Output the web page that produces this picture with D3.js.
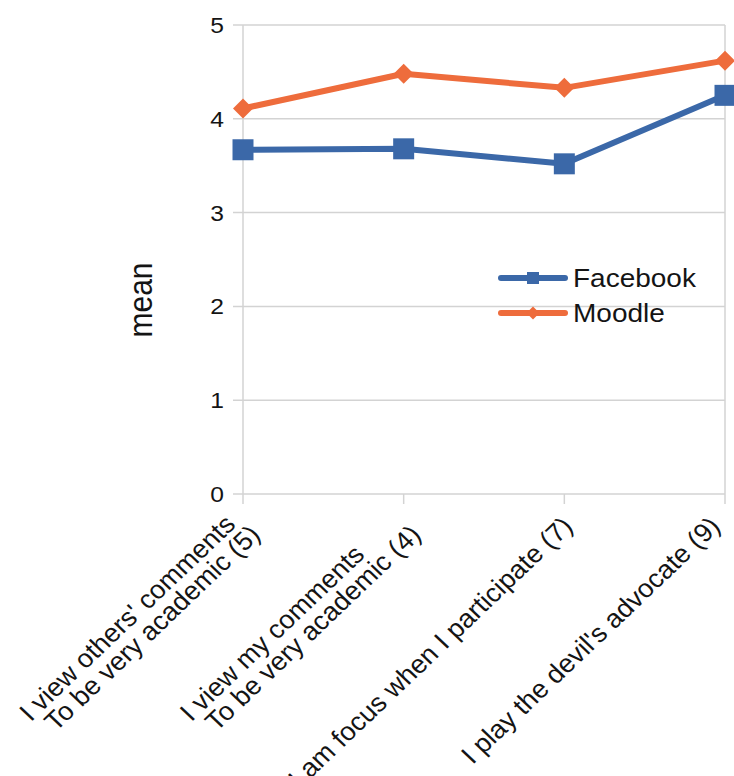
<!DOCTYPE html>
<html>
<head>
<meta charset="utf-8">
<script src="https://cdn.jsdelivr.net/npm/d3@7"></script>
<style>
  body { margin: 0; background: #fff; }
  text { font-family: "Liberation Sans", Arial, sans-serif; fill: #141414; }
</style>
</head>
<body>
<svg id="chart" width="734" height="776"></svg>
<script>
// data
const categories = [
  ["I view others' comments", "To be very academic (5)"],
  ["I view my comments", "To be very academic (4)"],
  ["I am focus when I participate (7)"],
  ["I play the devil's advocate (9)"]
];
const facebook = [3.67, 3.68, 3.52, 4.25];
const moodle = [4.11, 4.48, 4.33, 4.62];
const y_ticks = [0, 1, 2, 3, 4, 5];
const series = [
  {name: "Facebook", values: facebook, color: "#3b68a8", shape: "square"},
  {name: "Moodle", values: moodle, color: "#ee6c3c", shape: "diamond"}
];

const stretch = 1.12; // the source text looks a bit wide
const svg = d3.select("#chart");
const W = +svg.attr("width");

const x = d3.scalePoint()
  .domain(d3.range(categories.length))
  .range([243, 725]);

const y = d3.scaleLinear()
  .domain([0, 5])
  .range([494, 25]);

// square or diamond of a given width
function marker(shape, size) {
  const h = size / 2;
  if (shape === "square") return `M${-h},${-h}H${h}V${h}H${-h}Z`;
  return `M0,${-h}L${h},0L0,${h}L${-h},0Z`;
}

// grid lines
svg.append("g")
  .selectAll("line")
  .data(y_ticks)
  .join("line")
    .attr("x1", 233)
    .attr("x2", x.range()[1])
    .attr("y1", d => y(d))
    .attr("y2", d => y(d))
    .attr("stroke", "#d3d3d3")
    .attr("stroke-width", 1.5);

// left and right edges of the plot
svg.append("g")
  .selectAll("line")
  .data(x.range())
  .join("line")
    .attr("x1", d => d)
    .attr("x2", d => d)
    .attr("y1", y(5))
    .attr("y2", y(0))
    .attr("stroke", "#d3d3d3")
    .attr("stroke-width", 1.5);

// category ticks under the axis
svg.append("g")
  .selectAll("line")
  .data(x.domain())
  .join("line")
    .attr("x1", d => x(d))
    .attr("x2", d => x(d))
    .attr("y1", y(0))
    .attr("y2", y(0) + 10)
    .attr("stroke", "#d3d3d3")
    .attr("stroke-width", 1.5);

// y tick labels
svg.append("g")
  .selectAll("text")
  .data(y_ticks)
  .join("text")
    .attr("transform", d => `translate(224,${y(d)}) scale(${stretch},1)`)
    .attr("text-anchor", "end")
    .attr("dy", "0.36em")
    .attr("font-size", 22)
    .text(d => d);

// y axis title
svg.append("text")
  .attr("transform", `translate(152,300) scale(${stretch},1) rotate(-90)`)
  .attr("text-anchor", "middle")
  .attr("font-size", 30)
  .text("mean");

// x labels, rotated; the second line sits a little further along
const lab_stretch = 1.05;
const xlab = svg.append("g")
  .selectAll("text")
  .data(categories)
  .join("text")
    .attr("font-size", 26);

xlab.each(function(lines, i) {
  const t = d3.select(this);
  const lh = 24, indent = 10;
  const spans = t.selectAll("tspan")
    .data(lines)
    .join("tspan")
      .attr("y", (d, j) => (j - (lines.length - 1) / 2) * lh)
      .attr("dy", "0.36em")
      .text(d => d);
  const w = d3.max(spans.nodes(), (n, j) => n.getComputedTextLength() + j * indent);
  spans.attr("x", (d, j) => j * indent - w);
  let tx = x(i) + 3;
  const ty = y(0) + 27;
  t.attr("transform", `translate(${tx},${ty}) scale(${lab_stretch},1) rotate(-45)`);
  // keep the label inside the picture, like the source does
  const box = this.getBoundingClientRect();
  if (box.right > W - 2) {
    tx -= box.right - (W - 2) + 6;
    t.attr("transform", `translate(${tx},${ty}) scale(${lab_stretch},1) rotate(-45)`);
  }
});

// lines and markers
const line = d3.line()
  .x((d, i) => x(i))
  .y(d => y(d));

const sg = svg.append("g")
  .selectAll("g")
  .data(series)
  .join("g");

sg.append("path")
  .attr("d", d => line(d.values))
  .attr("fill", "none")
  .attr("stroke", d => d.color)
  .attr("stroke-width", 6)
  .attr("stroke-linejoin", "round");

sg.selectAll("path.pt")
  .data(d => d.values.map((v, i) => ({v, i, s: d})))
  .join("path")
    .attr("class", "pt")
    .attr("transform", d => `translate(${x(d.i)},${y(d.v)})`)
    .attr("d", d => marker(d.s.shape, d.s.shape === "square" ? 21 : 20))
    .attr("fill", d => d.s.color);

// legend
const legend = svg.append("g")
  .selectAll("g")
  .data(series)
  .join("g")
    .attr("transform", (d, i) => `translate(501,${278 + i * 35})`);

legend.append("line")
  .attr("x1", 0)
  .attr("x2", 64)
  .attr("stroke", d => d.color)
  .attr("stroke-width", 6)
  .attr("stroke-linecap", "round");

legend.append("path")
  .attr("transform", "translate(32,0)")
  .attr("d", d => marker(d.shape, d.shape === "square" ? 12 : 13))
  .attr("fill", d => d.color);

legend.append("text")
  .attr("transform", `translate(72,0) scale(${stretch},1)`)
  .attr("dy", "0.36em")
  .attr("font-size", 25)
  .text(d => d.name);
</script>
</body>
</html>
